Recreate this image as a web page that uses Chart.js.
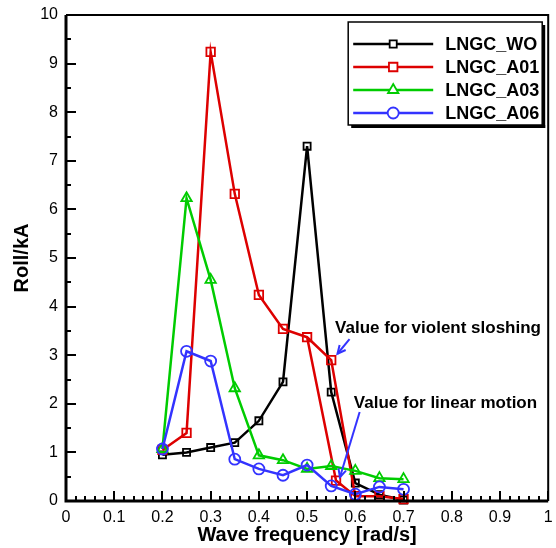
<!DOCTYPE html>
<html><head><meta charset="utf-8">
<script src="https://cdn.jsdelivr.net/npm/chart.js@4/dist/chart.umd.min.js"></script>
<style>html,body{margin:0;padding:0;background:#fff}</style>
</head><body>
<canvas id="c" width="556" height="548"></canvas>
<script>
// ---- data ----
const freq = [0.2, 0.25, 0.3, 0.35, 0.4, 0.45, 0.5, 0.55, 0.6, 0.65, 0.7];
const rollWO  = [0.95, 1.00, 1.10, 1.20, 1.65, 2.45, 7.30, 2.24, 0.37, 0.13, 0.02];
const rollA01 = [1.05, 1.40, 9.24, 6.32, 4.24, 3.54, 3.37, 2.90, 0.10, 0.10, 0.04];
const rollA03 = [1.07, 6.23, 4.55, 2.32, 0.94, 0.84, 0.66, 0.72, 0.62, 0.47, 0.45];
const rollA06 = [1.07, 3.08, 2.88, 0.86, 0.66, 0.53, 0.74, 0.31, 0.14, 0.29, 0.24];
// A01 branch for linear motion (0.5 -> linear value -> 0.6)
const a01LinearFreq = [0.5, 0.56, 0.6];
const a01LinearRoll = [3.37, 0.42, 0.10];
const seriesNames = ['LNGC_WO', 'LNGC_A01', 'LNGC_A03', 'LNGC_A06'];
const xTickLabels = ['0','0.1','0.2','0.3','0.4','0.5','0.6','0.7','0.8','0.9','1'];
const yTickLabels = ['0','1','2','3','4','5','6','7','8','9','10'];
const annotations = [
  {text:'Value for violent sloshing', tx:0.558, ty:3.56, ax0:0.588, ay0:3.33, ax1:0.563, ay1:3.03},
  {text:'Value for linear motion', tx:0.597, ty:2.02, ax0:0.609, ay0:1.83, ax1:0.568, ay1:0.49}
];

const FONT = "'Liberation Sans', Arial, sans-serif";
const colors = ['#000000', '#dd0000', '#00cc00', '#3333ff'];
const styles = ['rect', 'rect', 'triangle', 'circle'];
const radii = [5, 6, 6, 5.5];

const pts = (xs, ys) => xs.map((x, i) => ({x: x, y: ys[i]}));
const a01Data = pts(freq, rollA01).concat([{x: 0.5, y: null}], pts(a01LinearFreq, a01LinearRoll));
const a01Radius = a01Data.map((p, i) => (i > freq.length && (i === freq.length + 1 || i === a01Data.length - 1)) ? 0 : radii[1]);

function ds(i, data, order, radius) {
  return {
    label: seriesNames[i], data: data, borderColor: colors[i], backgroundColor: 'rgba(0,0,0,0)',
    borderWidth: 2.5, pointStyle: styles[i], pointRadius: radius !== undefined ? radius : radii[i],
    pointBorderWidth: 1.8, pointBorderColor: colors[i], pointBackgroundColor: 'rgba(0,0,0,0)',
    tension: 0, spanGaps: false, clip: false, order: order
  };
}

const decorPlugin = {
  id: 'decor',
  afterDraw(chart) {
    const ctx = chart.ctx, ca = chart.chartArea, xs = chart.scales.x, ys = chart.scales.y;
    ctx.save();
    // inward ticks
    ctx.strokeStyle = '#000'; ctx.lineWidth = 2;
    for (let k = 0; k <= 50; k++) {
      const v = k * 0.02, px = Math.round(xs.getPixelForValue(v));
      const len = (k % 5 === 0) ? 10 : 5;
      ctx.beginPath(); ctx.moveTo(px, ca.bottom); ctx.lineTo(px, ca.bottom - len); ctx.stroke();
    }
    for (let k = 0; k <= 20; k++) {
      const v = k * 0.5, py = Math.round(ys.getPixelForValue(v));
      const len = (k % 2 === 0) ? 10 : 5;
      ctx.beginPath(); ctx.moveTo(ca.left, py); ctx.lineTo(ca.left + len, py); ctx.stroke();
    }
    // frame
    ctx.lineWidth = 3;
    ctx.beginPath(); ctx.moveTo(ca.left, ca.top); ctx.lineTo(ca.left, ca.bottom); ctx.lineTo(ca.right, ca.bottom); ctx.stroke();
    ctx.lineWidth = 2;
    ctx.beginPath(); ctx.moveTo(ca.left, ca.top); ctx.lineTo(ca.right, ca.top); ctx.lineTo(ca.right, ca.bottom); ctx.stroke();

    // legend
    const lx = ca.right - 200, ly = ca.top + 7, lw = 194, lh = 103;
    ctx.fillStyle = '#fff'; ctx.fillRect(lx, ly, lw, lh);
    ctx.fillStyle = '#000';
    ctx.fillRect(lx + lw, ly + 3, 3, lh);
    ctx.fillRect(lx + 3, ly + lh, lw, 3);
    ctx.lineWidth = 1.5; ctx.strokeStyle = '#000';
    ctx.strokeRect(lx, ly, lw, lh);
    ctx.font = 'bold 18px ' + FONT; ctx.textBaseline = 'middle'; ctx.textAlign = 'left';
    for (let i = 0; i < 4; i++) {
      const yy = ly + 22 + i * 23;
      ctx.strokeStyle = colors[i]; ctx.lineWidth = 2.5;
      ctx.beginPath(); ctx.moveTo(lx + 5, yy); ctx.lineTo(lx + 85, yy); ctx.stroke();
      ctx.fillStyle = '#fff';
      ctx.lineWidth = 1.8;
      Chart.helpers.drawPoint(ctx, {pointStyle: styles[i], radius: radii[i], borderWidth: 1.8, rotation: 0}, lx + 45, yy);
      ctx.fillStyle = '#000';
      ctx.fillText(seriesNames[i], lx + 97, yy + 1);
    }

    // annotations
    ctx.font = 'bold 17px ' + FONT; ctx.fillStyle = '#000'; ctx.textBaseline = 'middle';
    annotations.forEach(a => {
      ctx.fillText(a.text, xs.getPixelForValue(a.tx), ys.getPixelForValue(a.ty));
      const x0 = xs.getPixelForValue(a.ax0), y0 = ys.getPixelForValue(a.ay0);
      const x1 = xs.getPixelForValue(a.ax1), y1 = ys.getPixelForValue(a.ay1);
      ctx.strokeStyle = '#3333ff'; ctx.lineWidth = 2;
      ctx.beginPath(); ctx.moveTo(x0, y0); ctx.lineTo(x1, y1); ctx.stroke();
      const ang = Math.atan2(y1 - y0, x1 - x0), hl = 9, spread = 0.45;
      ctx.beginPath();
      ctx.moveTo(x1 - hl * Math.cos(ang - spread), y1 - hl * Math.sin(ang - spread));
      ctx.lineTo(x1, y1);
      ctx.lineTo(x1 - hl * Math.cos(ang + spread), y1 - hl * Math.sin(ang + spread));
      ctx.stroke();
    });
    ctx.restore();
  }
};

Chart.defaults.color = '#000';
new Chart(document.getElementById('c'), {
  type: 'line',
  data: {
    datasets: [
      ds(0, pts(freq, rollWO), 3),
      ds(1, a01Data, 2, a01Radius),
      ds(2, pts(freq, rollA03), 1),
      ds(3, pts(freq, rollA06), 0)
    ]
  },
  options: {
    responsive: false, animation: false, devicePixelRatio: 1,
    layout: {padding: {top: 15, right: 0, left: 0, bottom: 0}},
    plugins: {legend: {display: false}, tooltip: {enabled: false}},
    scales: {
      x: {
        type: 'linear', min: 0, max: 1,
        grid: {display: false, drawTicks: false}, border: {display: false},
        ticks: {stepSize: 0.1, padding: 7, maxRotation: 0, autoSkip: false,
          font: {family: FONT, size: 16}, color: '#000',
          callback: (v, i) => xTickLabels[i]},
        title: {display: true, text: 'Wave frequency [rad/s]', color: '#000',
          font: {family: FONT, size: 20, weight: 'bold'}, padding: {top: 0, bottom: 1}},
        afterFit: s => { s.height = 47; s.paddingLeft = 0; s.paddingRight = 0; }
      },
      y: {
        type: 'linear', min: 0, max: 10,
        grid: {display: false, drawTicks: false}, border: {display: false},
        ticks: {stepSize: 1, padding: 8, autoSkip: false,
          font: {family: FONT, size: 16}, color: '#000',
          callback: (v, i) => yTickLabels[i]},
        title: {display: true, text: 'Roll/kA', color: '#000',
          font: {family: FONT, size: 20, weight: 'bold'}, padding: {top: 10, bottom: 0}},
        afterFit: s => { s.width = 66; s.paddingTop = 0; s.paddingBottom = 0; }
      }
    }
  },
  plugins: [decorPlugin]
});
</script>
</body></html>
